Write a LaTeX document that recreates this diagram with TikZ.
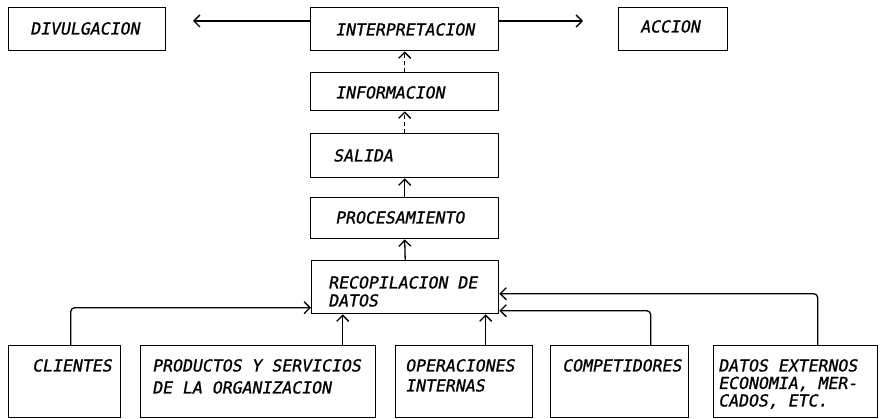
\documentclass[tikz,border=0pt]{standalone}
\usepackage{fontspec}
\newfontfamily\tw{DejaVu Sans Mono}[FakeSlant=0.18,FakeBold=1]
\usetikzlibrary{arrows.meta,calc}
\begin{document}
\begin{tikzpicture}[x=1pt,y=-1pt,
  box/.style={draw, line width=1.4pt, inner sep=0pt, anchor=north west},
  lbl/.style={inner sep=0pt, anchor=north west, align=left, font=\tw\fontsize{16.5}{21}\selectfont},
  arr/.style={line width=1.3pt, rounded corners=4pt, -{Straight Barb[length=6pt,width=12pt,line width=1.3pt]}},
  dsh/.style={dash pattern=on 4pt off 3pt}
]
\useasboundingbox (0,0) rectangle (888,419);
% top row
\node[box, minimum width=157pt, minimum height=43pt] (div) at (8,7) {};
\node[box, minimum width=188pt, minimum height=43pt] (interp) at (310,7) {};
\node[box, minimum width=109pt, minimum height=43pt] (acc) at (618,7) {};
% column
\node[box, minimum width=188pt, minimum height=38pt] (info) at (310,72) {};
\node[box, minimum width=188pt, minimum height=44pt] (sal) at (310,133) {};
\node[box, minimum width=188pt, minimum height=41pt] (proc) at (310,197) {};
\node[box, minimum width=187pt, minimum height=53pt] (rec) at (311,260) {};
% bottom row
\node[box, minimum width=112pt, minimum height=72pt] (cli) at (8,345) {};
\node[box, minimum width=235pt, minimum height=72pt] (prod) at (140,345) {};
\node[box, minimum width=137pt, minimum height=72pt] (oper) at (395,345) {};
\node[box, minimum width=138pt, minimum height=72pt] (comp) at (550,345) {};
\node[box, minimum width=164pt, minimum height=72pt] (dat) at (713,345) {};
% labels
\node[lbl] (tdiv) at (30,22) {DIVULGACION};
\node[lbl] (tinterp) at (335,23) {INTERPRETACION};
\node[lbl] (tacc) at (640,20) {ACCION};
\node[lbl] (tinfo) at (335,86) {INFORMACION};
\node[lbl] (tsal) at (333,149) {SALIDA};
\node[lbl] (tproc) at (335,211) {PROCESAMIENTO};
\node[lbl, font=\tw\fontsize{16.5}{18}\selectfont] (trec) at (328,276) {RECOPILACION DE\\DATOS};
\node[lbl] (tcli) at (32,359) {CLIENTES};
\node[lbl, font=\tw\fontsize{16.5}{22}\selectfont] (tprod) at (152,359) {PRODUCTOS Y SERVICIOS\\DE LA ORGANIZACION};
\node[lbl, font=\tw\fontsize{16.5}{20}\selectfont] (toper) at (405,359) {OPERACIONES\\INTERNAS};
\node[lbl] (tcomp) at (562,359) {COMPETIDORES};
\node[lbl, font=\tw\fontsize{16.5}{17.5}\selectfont] (tdat) at (718,359) {DATOS EXTERNOS\\ECONOMIA, MER-\\CADOS, ETC.};
% top arrows
\coordinate (ldiv) at (193,21);
\coordinate (racc) at (583,21);
\draw[arr] (interp.west |- ldiv) -- (ldiv);
\draw[arr] (interp.east |- racc) -- (racc);
% column arrows
\draw[arr, dsh] (info.north) -- (interp.south);
\draw[arr, dsh] (sal.north) -- (info.south);
\draw[arr] (proc.north) -- (sal.south);
\draw[arr] (rec.north) -- (proc.south);
% bottom connectors
\coordinate (pc) at ([xshift=6pt]cli.north);
\coordinate (pp) at ([xshift=84.5pt]prod.north);
\coordinate (po) at ([xshift=21.5pt]oper.north);
\coordinate (pm) at ([xshift=31pt]comp.north);
\coordinate (pd) at ([xshift=22pt]dat.north);
\coordinate (rc) at ([yshift=-20.5pt]rec.west);
\coordinate (rm) at ([yshift=-23.5pt]rec.east);
\coordinate (rd) at ([yshift=-6.5pt]rec.east);
\draw[arr] (pc) |- (rc);
\draw[arr] (pp) -- (pp |- rec.south);
\draw[arr] (po) -- (po |- rec.south);
\draw[arr] (pm) |- (rm);
\draw[arr] (pd) |- (rd);
\end{tikzpicture}
\end{document}
